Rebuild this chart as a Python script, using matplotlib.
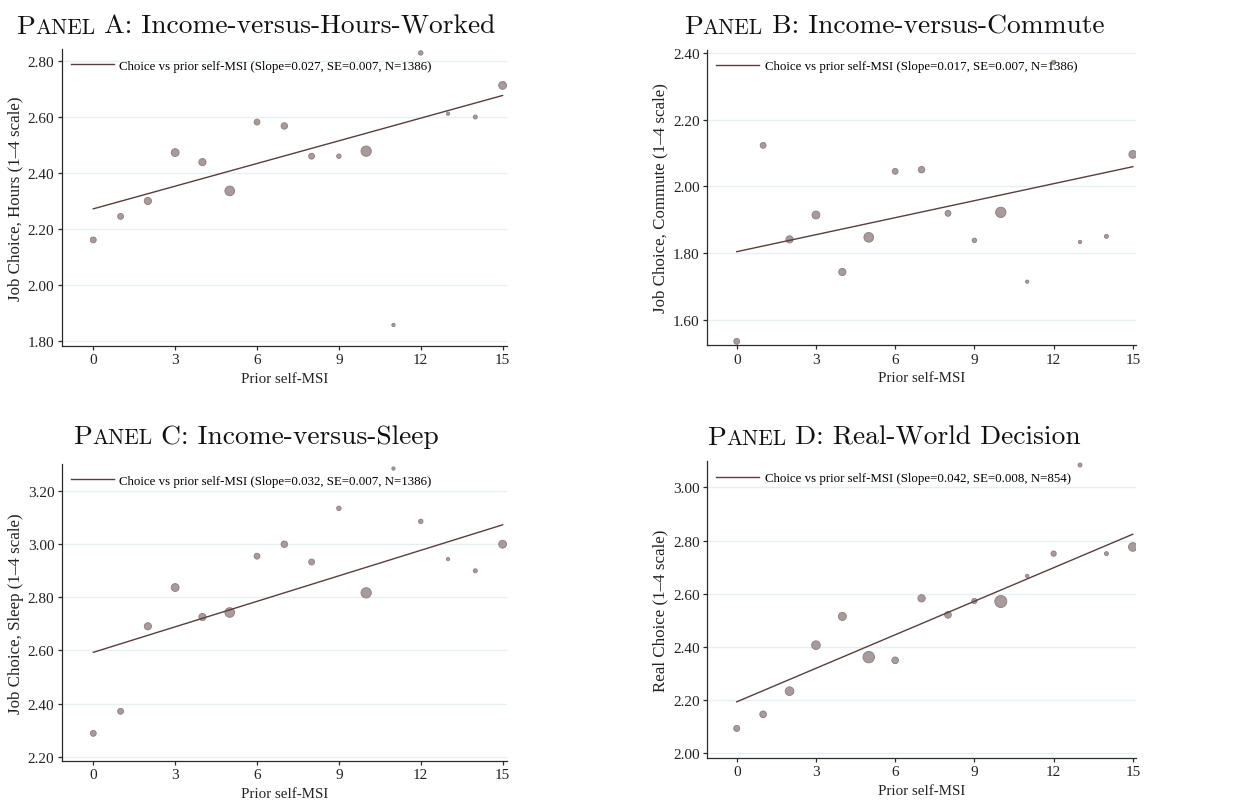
import numpy as np
import matplotlib
matplotlib.use("Agg")
import matplotlib.pyplot as plt
from matplotlib.ticker import FormatStrFormatter

# binned means of job choice by prior self-MSI score
msi = list(range(16))

hours = [2.162, 2.246, 2.301, 2.474, 2.440, 2.337, 2.583, 2.569,
         2.461, 2.461, 2.479, 1.858, 2.830, 2.613, 2.601, 2.714]
commute = [1.535, 2.123, 1.841, 1.914, 1.743, 1.847, 2.045, 2.050,
           1.919, 1.838, 1.922, 1.714, 2.372, 1.833, 1.850, 2.096]
sleep = [2.288, 2.371, 2.691, 2.837, 2.726, 2.743, 2.955, 3.000,
         2.933, 3.135, 2.817, 3.285, 3.086, 2.944, 2.900, 3.000]
real = [2.094, 2.147, 2.234, 2.407, 2.515, 2.362, 2.350, 2.583,
        2.521, 2.573, 2.571, 2.667, 2.751, 3.084, 2.751, 2.776]

# observations per bin (marker weights)
n_survey = [70, 70, 105, 125, 105, 190, 70, 85, 70, 40, 215, 22, 40, 22, 32, 125]
n_real = [35, 43, 72, 72, 62, 126, 43, 52, 43, 27, 139, 11, 27, 15, 15, 72]

# fitted line: intercept, slope, SE, N
fits = {
    "A": (2.273, 0.027, 0.007, 1386),
    "B": (1.804, 0.017, 0.007, 1386),
    "C": (2.593, 0.032, 0.007, 1386),
    "D": (2.194, 0.042, 0.008, 854),
}

panels = [
    ("A", "Income-versus-Hours-Worked", "Job Choice, Hours (1\u20134 scale)",
     hours, n_survey, 55, np.arange(1.8, 2.81, 0.2), (1.784, 2.844)),
    ("B", "Income-versus-Commute", "Job Choice, Commute (1\u20134 scale)",
     commute, n_survey, 55, np.arange(1.6, 2.41, 0.2), (1.524, 2.41)),
    ("C", "Income-versus-Sleep", "Job Choice, Sleep (1\u20134 scale)",
     sleep, n_survey, 55, np.arange(2.2, 3.21, 0.2), (2.185, 3.302)),
    ("D", "Real-World Decision", "Real Choice (1\u20134 scale)",
     real, n_real, 75, np.arange(2.0, 3.01, 0.2), (1.984, 3.098)),
]

# axes boxes in pixels: left, top, right, bottom
W, H = 1241, 803
boxes = [(62, 50, 506.7, 346.7), (707.3, 50.7, 1136, 346),
         (62, 465, 506.7, 761.7), (707.3, 462.3, 1136, 758.7)]
xlims = [(-1.147, 15.15), (-1.114, 15.12), (-1.147, 15.15), (-1.114, 15.12)]
title_pos = [(256, 34), (894, 34), (256, 444), (894, 445)]

plt.rcParams["font.family"] = ["Liberation Serif", "DejaVu Serif"]

MARKER = "#a89b9b"
EDGE = "#8a7c7c"
LINE = "#5a3d3d"
GRID = "#e6eff1"
AXIS = "#2b2b2b"

fig = plt.figure(figsize=(W / 100, H / 100), dpi=100)

for (key, name, ylab, vals, counts, smax, yt, ylim), box, xl in zip(panels, boxes, xlims):
    l, t, r, b = box
    ax = fig.add_axes([l / W, 1 - b / H, (r - l) / W, (b - t) / H])

    b0, slope, se, n = fits[key]
    xs = np.array([0, 15])
    ax.plot(xs, b0 + slope * xs, color=LINE, lw=1.0, zorder=3,
            label=f"Choice vs prior self-MSI (Slope={slope:.3f}, SE={se:.3f}, N={n})")

    sizes = smax * np.array(counts) / max(counts)
    ax.scatter(msi, vals, s=sizes, color=MARKER, edgecolors=EDGE,
               linewidths=0.6, zorder=2)

    ax.set_xlim(*xl)
    ax.set_ylim(*ylim)
    ax.set_xticks([0, 3, 6, 9, 12, 15])
    ax.set_yticks(yt)
    ax.yaxis.set_major_formatter(FormatStrFormatter("%.2f"))
    ax.yaxis.grid(True, color=GRID, lw=1.0)
    ax.set_axisbelow(True)

    for s in ("top", "right"):
        ax.spines[s].set_visible(False)
    for s in ("left", "bottom"):
        ax.spines[s].set_color(AXIS)
        ax.spines[s].set_linewidth(0.9)
    ax.tick_params(direction="out", length=3, width=0.9, color=AXIS,
                   labelsize=11, pad=2.5, labelcolor="#222222")

    ax.set_xlabel("Prior self-MSI", fontsize=10.8, labelpad=4, color="#222222")
    ax.set_ylabel(ylab, fontsize=12.2, labelpad=3, color="#222222")

    ax.legend(loc="center left", bbox_to_anchor=(9 / (r - l), 1 - 16.7 / (b - t)),
              frameon=False, fontsize=9.3, borderpad=0, borderaxespad=0,
              handlelength=3.3, handletextpad=0.45)

# panel titles with small-caps "Panel"
renderer = fig.canvas.get_renderer()
tsize = 19.8
for (key, name, *_), (cx, base) in zip(panels, title_pos):
    pieces = [("P", tsize), ("ANEL", tsize * 0.78), (f" {key}: {name}", tsize)]
    texts = []
    for s, fs in pieces:
        texts.append(fig.text(0, 1 - base / H, s, fontsize=fs, family="cmr10",
                              va="baseline", ha="left", color="#111111"))
    widths = [tx.get_window_extent(renderer).width for tx in texts]
    x = cx - sum(widths) / 2
    for tx, w in zip(texts, widths):
        tx.set_x(x / W)
        x += w

fig.savefig("out.png", dpi=100)
